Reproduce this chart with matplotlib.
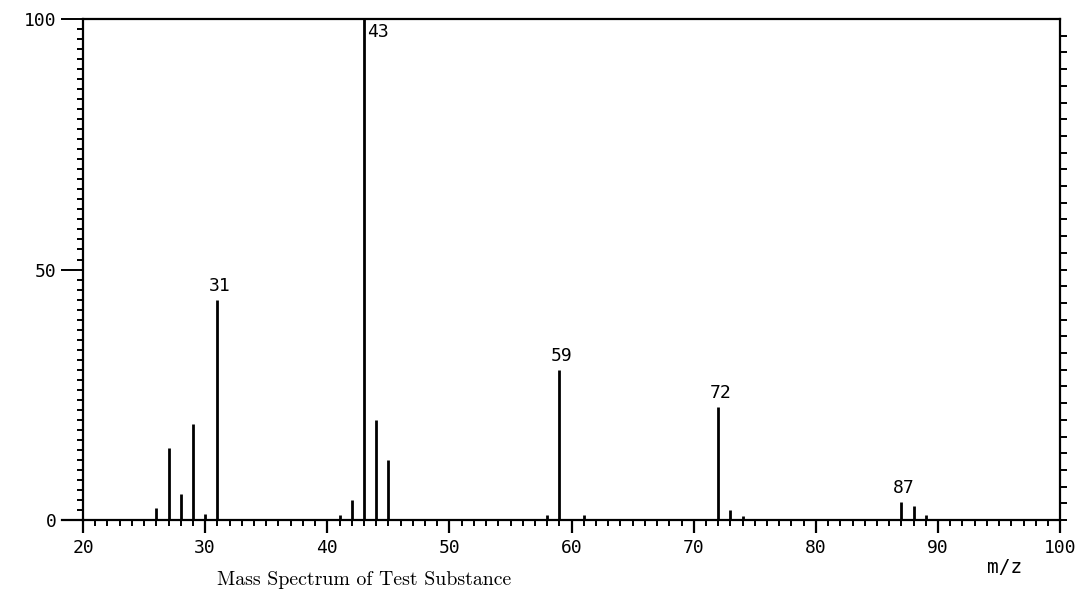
import numpy as np
import matplotlib.pyplot as plt

# m/z and relative intensity (%)
mz = [26, 27, 28, 29, 30, 31, 41, 42, 43, 44, 45, 58, 59, 61, 72, 73, 74, 87, 88, 89]
intensity = [2.4, 14.3, 5.2, 19.2, 1.2, 44.0, 1.0, 4.0, 100.0, 20.0, 12.0,
             1.0, 30.0, 1.0, 22.6, 2.0, 0.8, 3.6, 2.8, 1.0]
labelled = [31, 43, 59, 72, 87]
x_ticks = [20, 30, 40, 50, 60, 70, 80, 90, 100]
y_ticks = [0, 50, 100]
title = "Mass Spectrum of Test Substance"

mono = "DejaVu Sans Mono"

fig = plt.figure(figsize=(10.84, 6.04), dpi=100)
ax = fig.add_axes([0.0766, 0.139, 0.9014, 0.8295])

ax.vlines(mz, 0, intensity, color="black", lw=2.0)

lookup = dict(zip(mz, intensity))
for m in labelled:
    if m == 43:
        ax.text(m + 0.25, lookup[m] - 0.8, str(m), ha="left", va="top",
                fontsize=13, family=mono)
    else:
        ax.text(m + 0.2, lookup[m] + 1.0, str(m), ha="center", va="bottom",
                fontsize=13, family=mono)

ax.set_xlim(20, 100)
ax.set_ylim(0, 100)

for s in ax.spines.values():
    s.set_linewidth(1.6)

# x axis: minor ticks every unit, major every ten
ax.set_xticks(x_ticks)
ax.set_xticks(np.arange(20, 101, 1), minor=True)
ax.set_xticklabels([str(v) for v in x_ticks], family=mono, fontsize=13)
ax.tick_params(axis="x", which="major", direction="out", length=9, width=1.6, pad=5)
ax.tick_params(axis="x", which="minor", direction="out", length=4, width=1.4)

# y axis: left ticks every 2 %, right side ticks every 10/3 %
ax.set_yticks(y_ticks)
ax.set_yticks(np.arange(0, 101, 2), minor=True)
ax.set_yticklabels([str(v) for v in y_ticks], family=mono, fontsize=13)
ax.tick_params(axis="y", which="major", direction="out", length=16, width=1.4, pad=3)
ax.tick_params(axis="y", which="minor", direction="out", length=4, width=1.4)

axr = ax.twinx()
axr.set_ylim(0, 100)
axr.set_yticks(np.arange(0, 100, 10 / 3))
axr.set_yticklabels([])
axr.tick_params(axis="y", direction="out", length=5, width=1.4)
for s in axr.spines.values():
    s.set_visible(False)

# baseline drawn a little past the left edge, like the plotter output
ax.plot([18.3, 20], [0, 0], color="black", lw=1.6, clip_on=False)

fig.text(0.927, 0.045, "m/z", fontsize=14, family=mono, ha="center", va="bottom")
fig.text(0.336, 0.025, title, fontsize=14.3, family="cmr10", ha="center", va="bottom")

fig.savefig("out.png", dpi=100)
